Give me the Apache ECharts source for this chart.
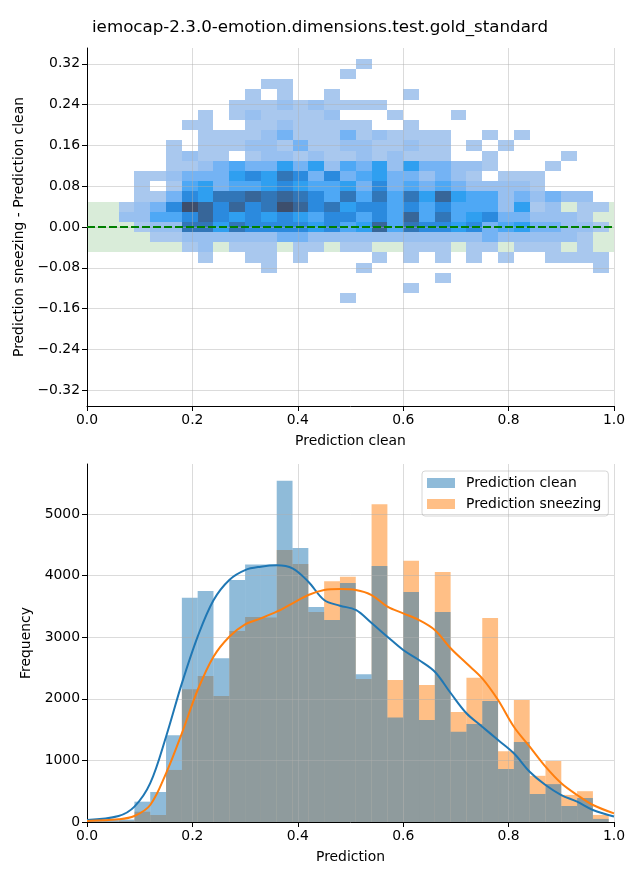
<!DOCTYPE html>
<html><head><meta charset="utf-8">
<script src="https://cdn.jsdelivr.net/npm/echarts@6/dist/echarts.min.js"></script>
<style>html,body{margin:0;padding:0;background:#fff}#chart{width:640px;height:880px}</style>
</head><body><div id="chart"></div>
<script>
// ---------------- data ----------------
const titleText = 'iemocap-2.3.0-emotion.dimensions.test.gold_standard';

// histogram bin edges (33 bins)
const binEdges = [0.00,0.03,0.06,0.09,0.12,0.15,0.18,0.21,0.24,0.27,0.30,0.33,0.36,0.39,0.42,0.45,0.48,
                  0.51,0.54,0.57,0.60,0.63,0.66,0.69,0.72,0.75,0.78,0.81,0.84,0.87,0.90,0.93,0.96,0.99];
const cleanCounts    = [40,40,40,330,487,1410,3640,3750,2660,3930,4180,4180,5540,4450,3490,3280,3880,
                        2400,4155,1695,3735,1655,3410,1465,1590,1965,860,1300,455,615,260,390,50];
const sneezingCounts = [10,10,20,167,114,845,2155,2370,2045,3100,3330,3320,4415,4190,3410,3910,3980,
                        2320,5160,2305,4240,2225,4060,1785,2340,3310,1150,1980,750,990,440,500,115];

// kde curves (scaled to counts)
const kdeX        = [0,0.06,0.09,0.12,0.15,0.18,0.21,0.24,0.27,0.30,0.33,0.36,0.39,0.42,0.45,0.48,0.51,
                     0.54,0.57,0.60,0.63,0.66,0.69,0.72,0.75,0.78,0.81,0.84,0.87,0.90,0.93,0.96,1.00];
const cleanKde    = [32,97,249,630,1385,2250,3010,3600,3930,4090,4145,4167,4118,3901,3604,3512,3442,
                     3230,3008,2792,2630,2440,2094,1765,1547,1331,1115,817,600,438,330,195,90];
const sneezingKde = [16,43,97,276,790,1440,2143,2684,3008,3209,3306,3414,3550,3685,3766,3782,3766,
                     3685,3496,3388,3279,3117,2820,2576,2333,1981,1547,1223,898,628,438,276,140];

// 2D histogram: rows of (difference) bins, centre values; half height of a row
const diffRowCenters = [0.32,0.30,0.28,0.26,0.24,0.22,0.20,0.18,0.16,0.14,0.12,0.10,0.08,0.06,0.04,0.02,
                        0.00,-0.02,-0.04,-0.06,-0.08,-0.10,-0.12,-0.14];
const diffRowHalf = 0.01;
// one char per x bin (same bins as binEdges); '.' = empty, digit = relative count level
const heatLevelRows = [
  "..... ..... ..... ..1.. ..... ..... ...",
  "..... ..... ..... .1... ..... ..... ...",
  "..... ..... .11.. ..... ..... ..... ...",
  "..... ..... 1.1.. 1.... 1.... ..... ...",
  "..... ....1 11212 1111. ..... ..... ...",
  "..... ..1.1 21111 2...1 ...1. ..... ...",
  "..... .11.. 11211 111.. 1.... ..... ...",
  "..... ..111 12311 13121 111.. 1.1.. ...",
  "..... 1.111 22131 12211 211.1 .1... ...",
  "..... 1211. 12212 11212 111.. 1.... 1..",
  "..... 11234 33535 24352 53322 1...1 ...",
  "...11 23335 65763 63453 32321 .111. ...",
  "...1. 14534 45654 45363 43432 2221. ...",
  "...11 36577 87876 47474 75854 42323 22.",
  "..123 69868 67986 75664 64644 42512 .11",
  "..224 46865 65654 66464 84745 63322 21.",
  "...12 27757 66665 64584 76656 34533 221",
  "....1 12222 22332 22222 22222 32222 21.",
  "..... .12.1 11.11 .11.. 111.1 1.111 .1.",
  "..... ..1.. 11.1. ...1. 1.1.1 .1..1 111",
  "..... ..... .1... ..1.. ..... ..... ..1",
  "..... ..... ..... ..... ..1.. ..... ...",
  "..... ..... ..... ..... 1.... ..... ...",
  "..... ..... ..... .1... ..... ..... ..."
];
const toleranceBand = [-0.05, 0.05];
const zeroLine = 0;

const diffTicks  = [-0.32,-0.24,-0.16,-0.08,0,0.08,0.16,0.24,0.32];
const countTicks = [0,1000,2000,3000,4000,5000];
const predTicks  = [0,0.2,0.4,0.6,0.8,1.0];
const diffRange  = [-0.351, 0.351];
const countMax   = 5812;

// ---------------- build ----------------
const heatData = [];
heatLevelRows.forEach((row, r) => {
  const cells = row.replace(/ /g, '');
  for (let c = 0; c < cells.length; c++) {
    if (cells[c] === '.') continue;
    const yc = diffRowCenters[r];
    heatData.push([binEdges[c], binEdges[c + 1], yc - diffRowHalf, yc + diffRowHalf, Number(cells[c])]);
  }
});
const histData = counts => counts.map((v, i) => [binEdges[i], binEdges[i + 1], v]);

const FONT = 'DejaVu Sans';
const minus = v => String(v).replace('-', '\u2212');
function axisBase(extra) {
  return Object.assign({
    type: 'value',
    axisLine: { show: true, onZero: false, lineStyle: { color: '#000', width: 1 } },
    axisTick: { show: true, inside: false, length: 5, lineStyle: { color: '#000', width: 1 } },
    axisLabel: { color: '#000', fontSize: 13.9, fontFamily: FONT, margin: 7 },
    splitLine: { show: true, lineStyle: { color: 'rgba(176,176,176,0.45)', width: 1 } },
    nameLocation: 'middle',
    nameTextStyle: { color: '#000', fontSize: 13.9, fontFamily: FONT },
    z: 4
  }, extra);
}
function withTicks(ax, vals, fmt) {
  ax.axisTick = Object.assign({}, ax.axisTick, { customValues: vals });
  ax.axisLabel = Object.assign({}, ax.axisLabel, { customValues: vals, formatter: fmt });
  return ax;
}

const rectRender = (fillFn) => (params, api) => {
  const a = api.coord([api.value(0), api.value(3)]);
  const b = api.coord([api.value(1), api.value(2)]);
  const x = Math.round(a[0]), y = Math.round(a[1]);
  return { type: 'rect', shape: { x: x, y: y, width: Math.round(b[0]) - x, height: Math.round(b[1]) - y },
           style: fillFn(api) };
};
const barRender = (color) => (params, api) => {
  const a = api.coord([api.value(0), api.value(2)]);
  const b = api.coord([api.value(1), 0]);
  return { type: 'rect', shape: { x: a[0], y: a[1], width: b[0] - a[0], height: b[1] - a[1] },
           style: { fill: color, opacity: 0.5 } };
};

const chart = echarts.init(document.getElementById('chart'), null, { renderer: 'canvas' });
chart.setOption({
  animation: false,
  backgroundColor: '#fff',
  title: { text: titleText, left: 'center', top: 19, padding: 0,
           textStyle: { fontSize: 16.7, fontWeight: 'normal', fontFamily: FONT, color: '#000' } },
  grid: [
    { left: 87, right: 26, top: 48, height: 358 },
    { left: 87, right: 26, top: 464, height: 358 }
  ],
  xAxis: [
    withTicks(axisBase({ gridIndex: 0, min: 0, max: 1, name: 'Prediction clean', nameGap: 28 }),
              predTicks, v => v.toFixed(1)),
    withTicks(axisBase({ gridIndex: 1, min: 0, max: 1, name: 'Prediction', nameGap: 28 }),
              predTicks, v => v.toFixed(1))
  ],
  yAxis: [
    withTicks(axisBase({ gridIndex: 0, min: diffRange[0], max: diffRange[1],
                         name: 'Prediction sneezing - Prediction clean', nameGap: 54 }),
              diffTicks, v => minus(v.toFixed(2))),
    withTicks(axisBase({ gridIndex: 1, min: 0, max: countMax, name: 'Frequency', nameGap: 43 }),
              countTicks, v => String(v))
  ],
  visualMap: [{
    show: false, type: 'continuous', min: 1, max: 9, dimension: 4, seriesIndex: 1,
    inRange: { color: ['#a9c8ee','#98c0f0','#74b3f4','#4ea8f5','#2f9ff0','#2b8ade','#3176b8','#376699','#3d4e6c'] }
  }],
  legend: {
    data: [{ name: 'Prediction clean', itemStyle: { color: '#8fbbd9' } },
           { name: 'Prediction sneezing', itemStyle: { color: '#ffbf86' } }],
    orient: 'vertical', left: 422, top: 471, itemWidth: 28, itemHeight: 10, itemGap: 4,
    padding: [3.5, 7, 3.5, 5], backgroundColor: '#fff', borderColor: '#d6d6d6', borderWidth: 1, borderRadius: 3,
    icon: 'rect', selectedMode: false,
    textStyle: { fontSize: 13.9, fontFamily: FONT, color: '#000', lineHeight: 17, padding: [0, 0, 0, 6] }
  },
  series: [
    { name: 'band', type: 'custom', xAxisIndex: 0, yAxisIndex: 0, z: 1, silent: true,
      data: [[0, 1, toleranceBand[0], toleranceBand[1]]],
      encode: { x: [0, 1], y: [2, 3] },
      renderItem: rectRender(() => ({ fill: 'rgba(0,128,0,0.15)' })) },
    { name: 'heat', type: 'custom', xAxisIndex: 0, yAxisIndex: 0, z: 2, silent: true,
      data: heatData, encode: { x: [0, 1], y: [2, 3] },
      renderItem: rectRender(api => ({ fill: api.visual('color') })) },
    { name: 'zero', type: 'line', xAxisIndex: 0, yAxisIndex: 0, z: 6, data: [], silent: true,
      markLine: { silent: true, symbol: 'none', label: { show: false },
                  lineStyle: { color: '#008000', width: 2, type: [8, 3] },
                  data: [{ yAxis: zeroLine }] } },
    { name: 'Prediction sneezing', type: 'custom', xAxisIndex: 1, yAxisIndex: 1, z: 2, silent: true,
      itemStyle: { color: '#ff7f0e' },
      data: histData(sneezingCounts), encode: { x: [0, 1], y: 2 },
      renderItem: barRender('#ff7f0e') },
    { name: 'Prediction clean', type: 'custom', xAxisIndex: 1, yAxisIndex: 1, z: 3, silent: true,
      itemStyle: { color: '#1f77b4' },
      data: histData(cleanCounts), encode: { x: [0, 1], y: 2 },
      renderItem: barRender('#1f77b4') },
    { name: 'kde clean', type: 'line', xAxisIndex: 1, yAxisIndex: 1, z: 6, smooth: 0.35, showSymbol: false,
      silent: true, lineStyle: { color: '#1f77b4', width: 2 },
      data: kdeX.map((x, i) => [x, cleanKde[i]]) },
    { name: 'kde sneezing', type: 'line', xAxisIndex: 1, yAxisIndex: 1, z: 6, smooth: 0.35, showSymbol: false,
      silent: true, lineStyle: { color: '#ff7f0e', width: 2 },
      data: kdeX.map((x, i) => [x, sneezingKde[i]]) }
  ]
});
</script>
</body></html>
